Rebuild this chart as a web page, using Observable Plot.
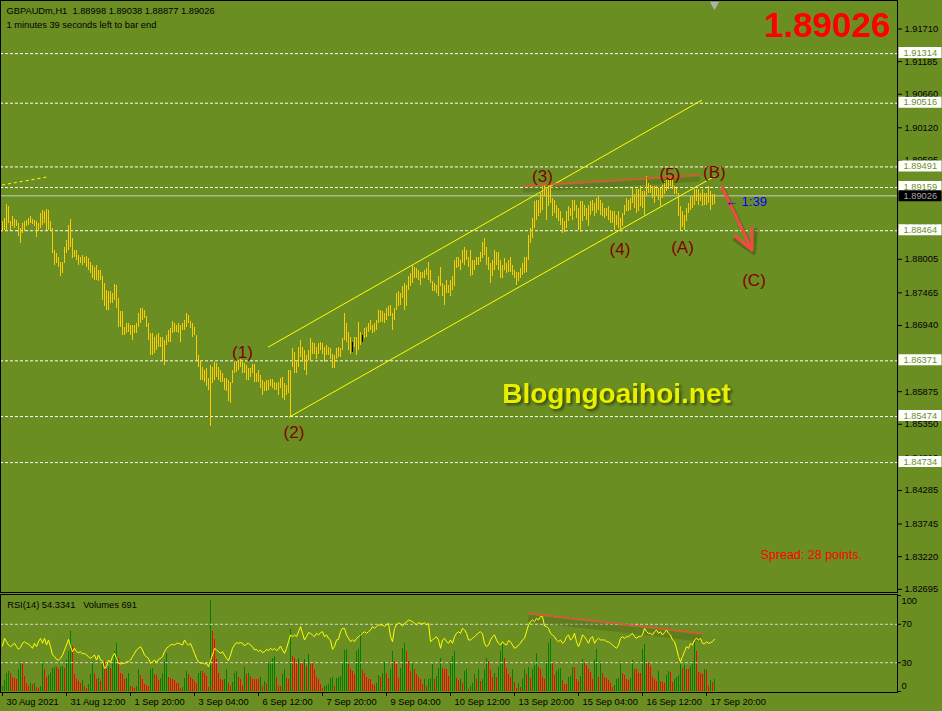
<!DOCTYPE html>
<html><head><meta charset="utf-8">
<script src="https://cdn.jsdelivr.net/npm/d3@7"></script>
<script src="https://cdn.jsdelivr.net/npm/@observablehq/plot@0.6"></script>
<style>
html,body{margin:0;padding:0;background:#6b8e23;overflow:hidden;}
#chart{width:942px;height:711px;background:#6b8e23;}
#chart svg{display:block;}
#chart svg text{white-space:pre;}
</style></head><body><div id="chart"></div>
<script>
// ---------- data ----------
const symbolName = "GBPAUDm,H1";
const lastOHLC = [1.88998, 1.89038, 1.88877, 1.89026];
const timeLeft = [1, 39];
const spreadPoints = 28;
const siteName = "Blogngoaihoi.net";

const highs = [
1.8861,1.8866,1.8888,1.8885,1.8861,1.8869,1.8864,1.8863,1.8858,1.8850,
1.8858,1.8861,1.8863,1.8866,1.8869,1.8864,1.8863,1.8861,1.8858,1.8874,
1.8879,1.8877,1.8881,1.8879,1.8861,1.8850,1.8815,1.8810,1.8804,1.8796,
1.8796,1.8820,1.8831,1.8855,1.8864,1.8834,1.8815,1.8815,1.8807,1.8804,
1.8807,1.8804,1.8805,1.8802,1.8796,1.8791,1.8788,1.8791,1.8783,1.8783,
1.8772,1.8761,1.8751,1.8748,1.8748,1.8745,1.8760,1.8759,1.8737,1.8716,
1.8716,1.8691,1.8697,1.8697,1.8694,1.8694,1.8694,1.8697,1.8713,1.8721,
1.8721,1.8718,1.8708,1.8697,1.8681,1.8681,1.8675,1.8678,1.8681,1.8675,
1.8675,1.8670,1.8678,1.8686,1.8689,1.8700,1.8697,1.8694,1.8697,1.8694,
1.8697,1.8702,1.8713,1.8710,1.8700,1.8697,1.8691,1.8678,1.8646,1.8638,
1.8627,1.8622,1.8624,1.8608,1.8630,1.8627,1.8635,1.8632,1.8627,1.8622,
1.8616,1.8608,1.8608,1.8606,1.8603,1.8622,1.8635,1.8638,1.8638,1.8639,
1.8635,1.8632,1.8630,1.8624,1.8624,1.8631,1.8631,1.8616,1.8622,1.8614,
1.8606,1.8603,1.8606,1.8606,1.8607,1.8607,1.8603,1.8600,1.8603,1.8608,
1.8611,1.8600,1.8598,1.8622,1.8622,1.8657,1.8651,1.8638,1.8659,
1.8670,1.8659,1.8654,1.8646,1.8654,1.8673,1.8667,1.8665,1.8659,1.8665,
1.8667,1.8665,1.8659,1.8662,1.8659,1.8657,1.8648,1.8646,1.8657,1.8659,
1.8657,1.8673,1.8713,1.8697,1.8683,1.8675,1.8666,1.8675,1.8675,1.8699,
1.8683,1.8678,1.8689,1.8691,1.8697,1.8702,1.8694,1.8697,1.8702,1.8718,
1.8718,1.8716,1.8713,1.8721,1.8724,1.8726,1.8713,1.8721,1.8745,1.8748,
1.8746,1.8756,1.8761,1.8759,1.8772,1.8777,1.8791,1.8788,1.8785,1.8783,
1.8780,1.8780,1.8783,1.8785,1.8796,1.8783,1.8764,1.8761,1.8759,1.8772,
1.8788,1.8761,1.8759,1.8767,1.8759,1.8767,1.8772,1.8799,1.8804,1.8804,
1.8799,1.8815,1.8820,1.8815,1.8804,1.8815,1.8799,1.8799,1.8804,1.8804,
1.8812,1.8828,1.8834,1.8820,1.8804,1.8793,1.8799,1.8815,1.8812,1.8812,
1.8799,1.8791,1.8801,1.8793,1.8799,1.8804,1.8791,1.8783,1.8780,1.8780,
1.8785,1.8793,1.8804,1.8804,1.8839,1.8850,1.8866,1.8893,1.8895,1.8895,
1.8906,1.8917,
1.8920,1.8912,1.8922,1.8920,1.8898,1.8895,1.8887,1.8882,1.8877,1.8866,
1.8861,1.8877,1.8885,1.8882,1.8895,1.8895,1.8887,1.8882,1.8893,1.8893,
1.8887,1.8882,1.8887,1.8893,1.8895,1.8890,1.8898,1.8901,1.8895,1.8890,
1.8882,1.8882,1.8885,1.8879,1.8877,1.8877,1.8871,1.8877,1.8866,1.8874,
1.8887,1.8898,1.8895,1.8898,1.8914,1.8904,1.8912,1.8912,1.8917,1.8909,
1.8909,1.8933,1.8922,1.8920,1.8917,1.8917,1.8917,1.8914,1.8914,1.8920,
1.8925,1.8928,1.8928,1.8933,1.8928,1.8917,1.8914,1.8906,1.8885,1.8877,
1.8871,1.8882,1.8890,1.8901,1.8901,1.8912,1.8912,1.8912,1.8906,1.8912,
1.8906,1.8906,1.8917,1.8909,1.8904,1.8904];

const lows = [
1.8845,1.8847,1.8845,1.8858,1.8846,1.8853,1.8850,1.8853,1.8837,1.8826,
1.8842,1.8845,1.8853,1.8855,1.8858,1.8857,1.8853,1.8835,1.8845,1.8850,
1.8855,1.8858,1.8846,1.8847,1.8846,1.8810,1.8791,1.8793,1.8788,1.8772,
1.8777,1.8793,1.8810,1.8815,1.8820,1.8802,1.8804,1.8799,1.8791,1.8793,
1.8791,1.8793,1.8788,1.8783,1.8777,1.8769,1.8767,1.8767,1.8764,1.8767,
1.8734,1.8724,1.8718,1.8718,1.8729,1.8729,1.8734,1.8721,1.8691,1.8691,
1.8678,1.8678,1.8681,1.8683,1.8678,1.8670,1.8681,1.8681,1.8691,1.8697,
1.8702,1.8705,1.8691,1.8670,1.8646,1.8646,1.8649,1.8654,1.8659,1.8659,
1.8638,1.8630,1.8662,1.8667,1.8667,1.8681,1.8683,1.8683,1.8681,1.8667,
1.8686,1.8686,1.8691,1.8697,1.8689,1.8675,1.8678,1.8638,1.8627,1.8606,
1.8606,1.8603,1.8595,1.8589,1.8531,1.8600,1.8606,1.8611,1.8606,1.8603,
1.8603,1.8589,1.8587,1.8571,1.8568,1.8600,1.8616,1.8619,1.8622,1.8627,
1.8616,1.8616,1.8606,1.8606,1.8611,1.8616,1.8603,1.8603,1.8603,1.8592,
1.8581,1.8587,1.8587,1.8589,1.8595,1.8592,1.8589,1.8589,1.8581,1.8592,
1.8576,1.8574,1.8581,1.8584,1.8547,1.8627,1.8616,1.8616,1.8627,
1.8643,1.8635,1.8622,1.8614,1.8638,1.8638,1.8648,1.8648,1.8640,1.8648,
1.8654,1.8648,1.8635,1.8646,1.8646,1.8640,1.8624,1.8624,1.8640,1.8643,
1.8643,1.8654,1.8670,1.8667,1.8654,1.8648,1.8650,1.8659,1.8646,1.8654,
1.8662,1.8666,1.8673,1.8675,1.8683,1.8686,1.8681,1.8683,1.8686,1.8697,
1.8699,1.8699,1.8697,1.8702,1.8708,1.8708,1.8686,1.8702,1.8718,1.8724,
1.8726,1.8737,1.8718,1.8724,1.8750,1.8756,1.8761,1.8769,1.8769,1.8767,
1.8759,1.8769,1.8769,1.8775,1.8767,1.8761,1.8748,1.8748,1.8745,1.8740,
1.8756,1.8740,1.8726,1.8745,1.8745,1.8740,1.8750,1.8756,1.8785,1.8788,
1.8783,1.8793,1.8791,1.8799,1.8788,1.8772,1.8775,1.8783,1.8791,1.8791,
1.8796,1.8801,1.8807,1.8791,1.8783,1.8761,1.8772,1.8783,1.8791,1.8783,
1.8769,1.8769,1.8783,1.8777,1.8780,1.8780,1.8775,1.8769,1.8759,1.8764,
1.8769,1.8775,1.8777,1.8780,1.8799,1.8826,1.8834,1.8850,1.8863,1.8869,
1.8874,1.8879,
1.8901,1.8863,1.8885,1.8890,1.8869,1.8874,1.8866,1.8861,1.8855,1.8842,
1.8844,1.8850,1.8861,1.8869,1.8863,1.8877,1.8866,1.8847,1.8844,1.8861,
1.8869,1.8863,1.8853,1.8871,1.8877,1.8869,1.8874,1.8879,1.8871,1.8869,
1.8866,1.8869,1.8863,1.8858,1.8858,1.8847,1.8855,1.8850,1.8844,1.8853,
1.8871,1.8877,1.8877,1.8879,1.8890,1.8882,1.8874,1.8877,1.8885,1.8882,
1.8871,1.8901,1.8906,1.8906,1.8898,1.8890,1.8901,1.8895,1.8885,1.8898,
1.8904,1.8909,1.8912,1.8917,1.8912,1.8904,1.8904,1.8869,1.8847,1.8852,
1.8847,1.8861,1.8874,1.8879,1.8882,1.8887,1.8893,1.8887,1.8893,1.8885,
1.8887,1.8887,1.8890,1.8879,1.8887,1.8888];

const blackBars = [175, 180];

const volumes = [
300,660,1060,1200,1100,860,800,740,1300,1800,
1700,900,460,300,460,400,460,260,200,300,
1800,1300,860,940,1100,1400,1460,1460,1300,1460,
1500,1400,1860,2400,3600,2700,1000,740,600,460,
660,300,200,400,1000,1800,1100,700,800,600,
1860,1800,1300,1500,1400,1800,2400,2860,2000,1100,
1000,740,800,1100,300,260,200,300,1300,940,
700,400,340,300,1300,1400,1000,940,660,800,
1060,1800,2300,860,800,700,660,500,460,200,
260,800,1200,1000,860,740,600,500,1060,1200,
1200,1060,900,260,5440,3600,3100,1900,1100,740,
660,700,1340,500,300,540,1060,1200,860,700,
340,1460,1000,1100,900,740,740,700,700,860,
300,600,500,1700,1800,2000,2100,860,300,300,
1000,1300,800,700,3740,2100,2000,1800,2000,1700,
1660,1900,1500,2200,1700,1700,1300,860,700,400,
200,300,340,400,800,860,300,800,860,900,
1700,2460,2500,1600,1300,1200,1000,2400,2540,3500,
1260,1100,860,700,700,400,340,500,940,860,
1100,1740,1100,800,1300,2400,1800,1600,800,1400,
2600,2900,2400,1800,1200,1700,1300,1000,860,700,
400,700,300,700,800,1600,700,900,1400,2000,
1400,1300,1300,900,1800,2100,2400,800,660,700,
500,1200,1300,140,
300,500,1000,700,1300,600,740,1300,2000,1800,
1260,860,1100,860,1460,2400,2800,2000,1400,1000,
860,1300,540,200,500,260,740,1300,1000,1460,
800,1300,1540,2300,1460,1300,860,740,1800,2860,
3140,1660,940,1200,1340,1400,660,400,400,860,
900,1460,1460,740,600,900,1900,1700,1540,1300,
1140,700,1860,2500,860,1800,1060,860,800,660,
460,260,340,740,800,1800,1100,940,700,660,
800,1860,1340,1340,1100,1060,2500,2800,1800,1700,
1500,860,740,600,1200,600,540,460,940,1200,
1140,540,740,860,940,1600,1400,1540,1340,1300,
1500,1800,2940,2400,1140,1100,1000,1300,1260,300,
660,540,691];

const rsi = [
47.4,55.4,51.9,48.4,46.7,48.4,50.2,46.7,43.9,46.0,
50.2,51.9,50.2,49.5,47.4,45.0,50.2,46.7,51.9,55.4,
50.2,55.4,48.4,53.7,46.7,38.0,36.3,33.5,32.8,34.5,
38.0,43.2,48.4,54.3,46.7,41.5,45.0,41.5,40.4,41.5,
39.0,39.7,38.0,36.3,34.5,36.3,38.0,32.8,38.0,32.8,
32.1,24.1,25.8,32.8,30.0,36.3,39.7,34.5,29.3,28.6,
29.3,29.3,31.0,31.0,32.8,36.3,39.7,43.2,45.0,46.7,
43.2,38.0,36.3,34.5,29.3,31.0,32.8,30.0,33.5,34.5,
36.3,41.5,45.0,46.7,48.4,49.1,48.4,50.2,50.2,49.5,
48.4,53.7,50.2,48.4,50.2,45.0,39.7,34.5,31.0,29.3,
30.0,28.6,29.3,25.8,32.1,38.0,45.0,43.2,41.5,39.7,
41.5,38.0,34.5,32.1,38.0,45.0,48.4,50.9,50.2,50.9,
50.2,47.4,49.5,50.2,48.4,46.7,43.2,43.9,41.5,43.2,
40.4,41.5,43.9,42.5,45.0,43.2,45.0,42.5,43.9,47.4,
43.2,39.7,45.0,51.9,58.9,57.1,58.9,57.1,62.3,67.6,
60.6,53.7,57.1,61.3,60.6,58.9,57.1,60.6,58.9,61.3,
62.3,57.1,58.9,55.4,53.7,43.9,46.7,53.7,54.3,62.3,
65.8,65.8,58.9,55.4,51.9,53.7,51.9,55.4,57.1,58.9,
60.6,62.3,60.6,62.3,64.1,67.6,65.8,67.6,69.3,69.3,
69.3,67.6,69.3,71.0,57.1,51.9,65.8,69.3,71.7,70.3,
68.3,71.0,72.1,74.5,73.8,72.8,71.0,69.3,71.7,71.0,
70.3,71.7,69.3,71.0,51.9,53.7,55.4,57.1,53.7,45.0,
53.7,55.4,51.9,50.2,53.7,50.2,57.1,60.6,62.3,60.6,
65.8,64.1,60.6,53.7,
53.7,55.4,57.1,58.9,61.3,62.3,59.9,50.2,46.7,48.4,
53.7,57.1,58.9,53.7,50.2,48.4,51.9,49.5,48.4,53.0,
51.9,48.4,45.0,46.0,48.4,50.2,53.7,55.4,62.3,69.3,
72.8,74.5,72.8,76.3,74.5,78.0,78.0,68.3,67.6,65.8,
60.6,58.9,57.1,53.7,51.9,53.7,50.2,51.9,57.1,58.9,
53.7,55.4,60.6,51.9,46.7,51.9,58.9,57.1,53.7,50.2,
55.4,57.1,50.2,53.7,55.4,53.7,53.7,53.7,51.9,51.9,
50.2,48.4,46.7,45.0,48.4,55.4,57.1,55.4,57.1,57.1,
58.9,60.6,57.1,55.4,57.1,57.1,58.9,65.8,62.3,60.6,
60.6,58.9,62.3,64.1,60.6,62.3,58.9,61.3,64.1,60.6,
58.9,53.7,51.9,45.0,36.3,31.0,36.3,41.5,46.7,45.0,
50.2,48.4,53.7,55.4,53.7,55.4,50.2,49.5,51.9,50.2,
50.9,51.9,54.3341];

const priceTicks = [1.91710,1.91185,1.90660,1.90120,1.89595,1.88530,1.88005,1.87465,
  1.86940,1.85875,1.85350,1.84810,1.84285,1.83745,1.83220,1.82695];
const levels = [1.91314,1.90516,1.89491,1.89159,1.88464,1.86371,1.85474,1.84734];
const rsiLevels = [30, 70];
const rsiTicks = [0, 30, 70, 100];
const timeTickBars = [0,32,64,96,128,160,192,224,256,288,320,352];
const timeTickLabels = ["30 Aug 2021","31 Aug 12:00","1 Sep 20:00","3 Sep 04:00","6 Sep 12:00",
  "7 Sep 20:00","9 Sep 04:00","10 Sep 12:00","13 Sep 20:00","15 Sep 04:00","16 Sep 12:00","17 Sep 20:00"];

// trend objects (bar index, price)
const channelBar1 = [132.75, 143.25], channelPrice1 = [1.86590, 1.85463];
const channelBar2 = [349.75, 356.25], channelPrice2 = [1.90567, 1.89343];
const topLineBar = [260.25, 348.75], topLinePrice = [1.89184, 1.89361];
const oldLineBar = [-0.25, 22.25], oldLinePrice = [1.89200, 1.89329];
const arrowBar = [359.75, 374.75], arrowPrice = [1.89168, 1.88154];
const rsiDivBar = [262.9, 349.6], rsiDivValue = [81.5, 60.6];
const waveNames = ["(1)","(2)","(3)","(4)","(5)","(A)","(B)","(C)"];
const waveBars = [120, 145.75, 270, 308.75, 333.75, 340, 355.9, 375.75];
const wavePrices = [1.86497, 1.85210, 1.89329, 1.88154, 1.89369, 1.88186, 1.89393, 1.87655];
const timerBar = 361.25, timerPrice = 1.88926;

// ---------- build ----------
const FONT = "'Liberation Sans', Arial, sans-serif";
const fmt5 = d3.format(".5f");
const N = highs.length;
const bars = highs.map((h, i) => ({i, high: h, low: lows[i], black: blackBars.includes(i)}));
const VMAX = 5760;
const vols = volumes.map((v, i) => ({i, v, up: i === 0 || v > volumes[i - 1]}));
const rsiData = rsi.map((r, i) => ({i, r}));
const X = {type: "linear", domain: [0, 1], range: [2, 4], axis: null};
const boxSym = {draw(ctx) { ctx.rect(-21.5, -5.5, 43, 11); }};

const link = (b, p) => [{x1: b[0], y1: p[0], x2: b[1], y2: p[1]}];

const main = Plot.plot({
  width: 942, height: 593,
  marginLeft: 0, marginRight: 45, marginTop: 0, marginBottom: 1,
  style: {background: "transparent", fontFamily: FONT, fontSize: "9.3px", color: "black", overflow: "visible"},
  x: X,
  y: {domain: [1.91710, 1.82695], range: [28.5, 588.8], axis: null},
  marks: [
    Plot.ruleY(levels, {y: d => d, stroke: "#ffffff", strokeDasharray: "3,2", strokeWidth: 1}),
    Plot.ruleY([lastOHLC[3]], {y: d => d, stroke: "#c8c8c8", strokeWidth: 1}),
    Plot.link(link(oldLineBar, oldLinePrice), {x1: "x1", y1: "y1", x2: "x2", y2: "y2", stroke: "#ffff00", strokeDasharray: "3,3"}),
    Plot.link([{x1: channelBar1[0], y1: channelPrice1[0], x2: channelBar2[0], y2: channelPrice2[0]},
               {x1: channelBar1[1], y1: channelPrice1[1], x2: channelBar2[1], y2: channelPrice2[1]}],
      {x1: "x1", y1: "y1", x2: "x2", y2: "y2", stroke: "#ffff00", strokeWidth: 1}),
    Plot.link(link(topLineBar, topLinePrice), {x1: "x1", y1: "y1", x2: "x2", y2: "y2", stroke: "#3a4a10", strokeOpacity: 0.25, strokeWidth: 5, dy: 4}),
    Plot.ruleX(bars, {x: "i", y1: "low", y2: "high", stroke: d => d.black ? "#000000" : "#ffcc00", strokeWidth: 1, shapeRendering: "crispEdges"}),
    Plot.link(link(topLineBar, topLinePrice), {x1: "x1", y1: "y1", x2: "x2", y2: "y2", stroke: "#e8503a", strokeWidth: 1.5}),
    Plot.arrow(link(arrowBar, arrowPrice), {x1: "x1", y1: "y1", x2: "x2", y2: "y2", stroke: "#2e3a08", strokeOpacity: 0.35, strokeWidth: 4, headLength: 12, dx: 2, dy: 3}),
    Plot.arrow(link(arrowBar, arrowPrice), {x1: "x1", y1: "y1", x2: "x2", y2: "y2", stroke: "#f24a44", strokeWidth: 3, headLength: 11, headAngle: 50}),
    Plot.text(waveNames, {x: (d, k) => waveBars[k], y: (d, k) => wavePrices[k], text: d => d, fill: "#800000", fontSize: 17}),
    Plot.text([`\u2190 ${timeLeft[0]}:${timeLeft[1]}`], {x: () => timerBar, y: () => timerPrice, text: d => d, textAnchor: "start", fill: "#0000ff", fontSize: 13}),
    Plot.text([siteName], {frameAnchor: "top-left", dx: 501.7, dy: 382.3, lineAnchor: "top", textAnchor: "start", fontSize: 28, fontWeight: "bold", fill: "#e8f000", imageFilter: "drop-shadow(2px 2px 1.5px rgba(40,52,6,0.8))"}),
    Plot.text([`${symbolName}  ${lastOHLC.map(fmt5).join(" ")}`], {frameAnchor: "top-left", dx: 6, dy: 7.3, lineAnchor: "top", textAnchor: "start", fill: "#000"}),
    Plot.text([`${timeLeft[0]} minutes ${timeLeft[1]} seconds left to bar end`], {frameAnchor: "top-left", dx: 6, dy: 20.7, lineAnchor: "top", textAnchor: "start", fill: "#000"}),
    Plot.text([fmt5(lastOHLC[3])], {frameAnchor: "top-right", dx: -7, dy: 11.7, lineAnchor: "top", textAnchor: "end", fontSize: 35, fontWeight: "bold", fill: "#ff0000"}),
    Plot.text([`Spread: ${spreadPoints} points.`], {frameAnchor: "top-left", dx: 760, dy: 549.5, lineAnchor: "top", textAnchor: "start", fontSize: 12.5, fill: "#ff0000"}),
    Plot.dot([N - 1], {x: d => d, frameAnchor: "top", dy: 4, symbol: "triangle", rotate: 180, r: 3.5, fill: "#b0b0b0", stroke: null}),
    Plot.frame({stroke: "#000"}),
    Plot.axisY(priceTicks, {anchor: "right", tickSize: 4, tickPadding: 3, tickFormat: fmt5, label: null}),
    Plot.dot(levels, {y: d => d, frameAnchor: "right", dx: 22.5, dy: -1, symbol: boxSym, r: 5, fill: "#ffffff", stroke: null}),
    Plot.text(levels, {y: d => d, frameAnchor: "right", dx: 6, dy: -1, textAnchor: "start", text: fmt5, fill: "#6b8e23"}),
    Plot.dot([lastOHLC[3]], {y: d => d, frameAnchor: "right", dx: 22.5, symbol: boxSym, r: 5, fill: "#000000", stroke: null}),
    Plot.text([lastOHLC[3]], {y: d => d, frameAnchor: "right", dx: 6, textAnchor: "start", text: fmt5, fill: "#a8a8a8"})
  ]
});

const sub = Plot.plot({
  width: 942, height: 118,
  marginLeft: 0, marginRight: 45, marginTop: 1, marginBottom: 19,
  style: {background: "transparent", fontFamily: FONT, fontSize: "9.3px", color: "black", overflow: "visible"},
  x: X,
  y: {domain: [0, 100], range: [98, 2], axis: null},
  marks: [
    Plot.ruleX(vols, {x: "i", y1: 0, y2: d => d.v / VMAX * 100, stroke: d => d.up ? "#008000" : "#ff0000", strokeWidth: 1, shapeRendering: "crispEdges"}),
    Plot.ruleY(rsiLevels, {y: d => d, stroke: "#d4d4d4", strokeDasharray: "3,2"}),
    Plot.link(link(rsiDivBar, rsiDivValue), {x1: "x1", y1: "y1", x2: "x2", y2: "y2", stroke: "#3a4a10", strokeOpacity: 0.25, strokeWidth: 7, dy: 5}),
    Plot.link(link(rsiDivBar, rsiDivValue), {x1: "x1", y1: "y1", x2: "x2", y2: "y2", stroke: "#e8503a", strokeWidth: 1.5}),
    Plot.line(rsiData, {x: "i", y: "r", stroke: "#ffff00", strokeWidth: 1}),
    Plot.frame({stroke: "#000"}),
    Plot.text([`RSI(14) ${rsi[N - 1]}   Volumes ${volumes[N - 1]}`], {frameAnchor: "top-left", dx: 6.7, dy: 7, lineAnchor: "top", textAnchor: "start", fill: "#000"}),
    Plot.axisY(rsiTicks, {anchor: "right", tickSize: 3, tickFormat: () => "", label: null}),
    Plot.text(rsiLevels, {y: d => d, text: d => String(d), frameAnchor: "right", dx: 4, textAnchor: "start", fill: "#000"}),
    Plot.text([rsiTicks[3]], {y: d => d, text: d => String(d), frameAnchor: "right", dx: 4, dy: 6, textAnchor: "start", fill: "#000"}),
    Plot.text([rsiTicks[0]], {y: d => d, text: d => String(d), frameAnchor: "right", dx: 4, dy: -5.5, textAnchor: "start", fill: "#000"}),
    Plot.axisX(timeTickBars, {anchor: "bottom", tickSize: 4, tickFormat: () => "", label: null}),
    Plot.text(timeTickLabels, {x: (d, k) => timeTickBars[k], frameAnchor: "bottom", dx: 4, dy: 5.7, lineAnchor: "top", textAnchor: "start", text: d => d, fill: "#000"})
  ]
});

const root = document.getElementById("chart");
root.appendChild(main);
root.appendChild(sub);
</script>
</body></html>
